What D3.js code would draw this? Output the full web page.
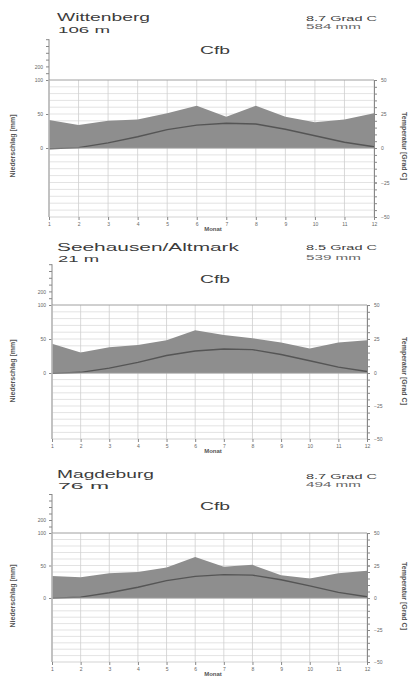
<!DOCTYPE html>
<html>
<head>
<meta charset="utf-8">
<script src="https://cdn.jsdelivr.net/npm/d3@7"></script>
<style>
  body { margin: 0; background: #fff; }
  text { font-family: "Liberation Sans", Arial, sans-serif; fill: #3c3c3c; }
</style>
</head>
<body>
<div id="chart"></div>
<script>
// data
const months = [1, 2, 3, 4, 5, 6, 7, 8, 9, 10, 11, 12];
const stations = ["Wittenberg", "Seehausen/Altmark", "Magdeburg"];
const elevations = ["106 m", "21 m", "76 m"];
const meanTemps = ["8.7 Grad C", "8.5 Grad C", "8.7 Grad C"];
const yearPrecip = ["584 mm", "539 mm", "494 mm"];
const climateCodes = ["Cfb", "Cfb", "Cfb"];

const precipWittenberg = [41, 34, 40, 42, 51, 62, 46, 62, 46, 38, 42, 51];
const tempWittenberg = [-0.5, 0.3, 3.8, 8.3, 13.5, 16.8, 18.2, 17.6, 13.8, 9.0, 4.2, 0.9];
const precipSeehausen = [43, 30, 38, 41, 48, 63, 56, 51, 45, 36, 45, 48];
const tempSeehausen = [-0.3, 0.5, 3.6, 7.8, 12.9, 16.2, 17.6, 17.2, 13.6, 9.0, 4.3, 1.1];
const precipMagdeburg = [34, 32, 38, 40, 47, 63, 48, 51, 35, 30, 38, 42];
const tempMagdeburg = [-0.1, 0.7, 4.0, 8.3, 13.4, 16.6, 18.0, 17.6, 14.0, 9.3, 4.3, 1.0];

const precipLabelTicks = [0, 50, 100];
const precipUpperTicks = [100, 150, 200, 250, 300, 350, 400];
const precipUpperLabels = [200];
const tempLabelTicks = [-50, -25, 0, 25, 50];

const precipSeries = [precipWittenberg, precipSeehausen, precipMagdeburg];
const tempSeries = [tempWittenberg, tempSeehausen, tempMagdeburg];

// layout of the three panels
const panels = [
  { x0: 49, x1: 374, top: 80,  zero: 148, bottom: 217, titleY: 21,  elevY: 33,  info1Y: 21,  info2Y: 29,  cfbY: 54 },
  { x0: 52, x1: 367, top: 305, zero: 373, bottom: 439, titleY: 251, elevY: 262, info1Y: 250, info2Y: 260, cfbY: 283 },
  { x0: 52, x1: 367, top: 533, zero: 598, bottom: 662, titleY: 478, elevY: 489, info1Y: 479, info2Y: 487, cfbY: 510 }
];

const svg = d3.select("#chart").append("svg")
  .attr("width", 411)
  .attr("height", 677);

function stretchText(g, str, x, y, size, len, anchor) {
  return g.append("text")
    .attr("x", x).attr("y", y)
    .attr("font-size", size)
    .attr("text-anchor", anchor || "start")
    .attr("textLength", len)
    .attr("lengthAdjust", "spacingAndGlyphs")
    .text(str);
}

panels.forEach(function(p, k) {
  const g = svg.append("g");
  const precip = precipSeries[k];
  const temp = tempSeries[k];
  const h = p.zero - p.top;

  const x = d3.scaleLinear().domain([1, 12]).range([p.x0, p.x1]);
  const yP = d3.scaleLinear().domain([0, 100, 400]).range([p.zero, p.top, p.top - h * 0.6]);
  const yT = d3.scaleLinear().domain([-50, 0, 50]).range([p.bottom, p.zero, p.top]);

  // grid
  g.append("g").selectAll("line").data(d3.range(-45, 50, 5))
    .enter().append("line")
    .attr("x1", p.x0).attr("x2", p.x1)
    .attr("y1", d => yT(d)).attr("y2", d => yT(d))
    .attr("stroke", "#dcdcdc").attr("stroke-width", 0.8);
  g.append("g").selectAll("line").data(months)
    .enter().append("line")
    .attr("x1", d => x(d)).attr("x2", d => x(d))
    .attr("y1", p.top).attr("y2", p.bottom)
    .attr("stroke", "#cfcfcf").attr("stroke-width", 0.8);

  // precipitation area
  const area = d3.area()
    .x((d, i) => x(months[i]))
    .y0(yP(0))
    .y1(d => yP(d));
  g.append("path").datum(precip)
    .attr("d", area)
    .attr("fill", "#8e8e8e");

  // temperature line
  const line = d3.line()
    .x((d, i) => x(months[i]))
    .y(d => yT(d));
  g.append("path").datum(temp)
    .attr("d", line)
    .attr("fill", "none")
    .attr("stroke", "#555")
    .attr("stroke-width", 1.4);

  // frame lines
  g.append("line").attr("x1", p.x0).attr("x2", p.x1).attr("y1", p.top).attr("y2", p.top)
    .attr("stroke", "#a0a0a0").attr("stroke-width", 1);
  g.append("line").attr("x1", p.x0).attr("x2", p.x1).attr("y1", p.zero).attr("y2", p.zero)
    .attr("stroke", "#9a9a9a").attr("stroke-width", 1);
  g.append("line").attr("x1", p.x0).attr("x2", p.x1).attr("y1", p.bottom).attr("y2", p.bottom)
    .attr("stroke", "#c8c8c8").attr("stroke-width", 0.8);

  // left axis (precipitation)
  const leftAxis = g.append("g")
    .attr("transform", "translate(" + p.x0 + ",0)")
    .call(d3.axisLeft(yP).tickValues(precipLabelTicks).tickSize(3).tickPadding(3).tickFormat(d3.format("d")));
  leftAxis.select(".domain").remove();
  const upper = g.append("g")
    .attr("transform", "translate(" + p.x0 + ",0)")
    .call(d3.axisLeft(yP).tickValues(precipUpperTicks).tickSize(3)
      .tickFormat(d => precipUpperLabels.includes(d) ? d : ""));
  upper.select(".domain").attr("d", "M0," + yP(400) + "V" + yP(100));
  g.append("line").attr("x1", p.x0).attr("x2", p.x0).attr("y1", yP(100)).attr("y2", p.bottom)
    .attr("stroke", "#b8b8b8").attr("stroke-width", 1.6);

  // right axis (temperature)
  g.append("g")
    .attr("transform", "translate(" + p.x1 + ",0)")
    .call(d3.axisRight(yT).tickValues(d3.range(-50, 55, 5)).tickSize(3).tickFormat(""));
  const rightAxis = g.append("g")
    .attr("transform", "translate(" + p.x1 + ",0)")
    .call(d3.axisRight(yT).tickValues(tempLabelTicks).tickSize(3).tickPadding(4).tickFormat(d3.format("d")));
  rightAxis.select(".domain").remove();

  // bottom axis (months)
  const bottomAxis = g.append("g")
    .attr("transform", "translate(0," + p.bottom + ")")
    .call(d3.axisBottom(x).tickValues(months).tickSize(3).tickPadding(2).tickFormat(d3.format("d")));
  bottomAxis.select(".domain").remove();

  g.selectAll(".tick text").attr("font-size", 5).style("fill", "#666");
  g.selectAll(".tick line").attr("stroke", "#888");
  g.selectAll(".domain").attr("stroke", "#888");

  // texts
  stretchText(g, stations[k], 57, p.titleY, 10.5, k === 1 ? 182 : (k === 0 ? 93 : 97));
  stretchText(g, elevations[k], 58, p.elevY, 9, k === 1 ? 41 : (k === 0 ? 52 : 51));
  stretchText(g, meanTemps[k], 306, p.info1Y, 7.5, 71);
  stretchText(g, yearPrecip[k], 306, p.info2Y, 7, 55).style("fill", "#666");
  stretchText(g, climateCodes[k], 215, p.cfbY, 10, 30, "middle");

  g.append("text")
    .attr("transform", "translate(15," + (p.zero - 2) + ") rotate(-90)")
    .attr("text-anchor", "middle")
    .attr("font-size", 7)
    .attr("font-weight", "bold")
    .style("fill", "#555")
    .text("Niederschlag [mm]");
  g.append("text")
    .attr("transform", "translate(402," + (p.zero - 2) + ") rotate(90)")
    .attr("text-anchor", "middle")
    .attr("font-size", 7)
    .attr("font-weight", "bold")
    .style("fill", "#555")
    .text("Temperatur [Grad C]");
  g.append("text")
    .attr("x", 213).attr("y", p.bottom + 14)
    .attr("text-anchor", "middle")
    .attr("font-size", 6)
    .attr("font-weight", "bold")
    .style("fill", "#555")
    .text("Monat");
});
</script>
</body>
</html>
